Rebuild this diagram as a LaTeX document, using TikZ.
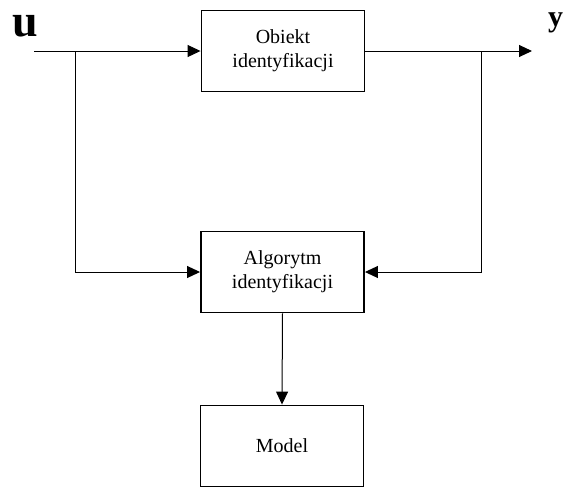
\documentclass[tikz,border=0pt]{standalone}
\usepackage{fontspec}
\setmainfont{Liberation Serif}
\usetikzlibrary{arrows.meta}
\tikzset{
  block/.style={draw, line width=1.9pt, minimum width=163pt, minimum height=81pt,
    inner sep=0pt, align=center, font=\fontsize{20}{24}\selectfont},
  sig/.style={line width=1pt},
  arr/.style={sig, -{Triangle[length=13pt,width=12pt]}},
  siglabel/.style={inner sep=0pt, font=\bfseries}
}
\begin{document}
\begin{tikzpicture}[x=1pt,y=1pt]
  \useasboundingbox (0,0) rectangle (563,-488);
  % blocks
  \node[block] (obj) at (283,-51) {Obiekt\\identyfikacji};
  \node[block] (alg) at (282.5,-272) {Algorytm\\identyfikacji};
  \node[block] (mod) at (282,-446) {Model};
  % signal points
  \coordinate (in) at (34,-51);
  \coordinate (bu) at (75,-51);
  \coordinate (by) at (481,-51);
  \coordinate (out) at (532,-51);
  % signal labels
  \node[siglabel, anchor=base west, font=\bfseries\fontsize{46}{46}\selectfont] (lu) at (12,-36) {u};
  \node[siglabel, anchor=base west, font=\bfseries\fontsize{30}{30}\selectfont] (ly) at (548,-26) {y};
  % connections
  \draw[arr] (in) -- (obj.west);
  \draw[arr] (obj.east) -- (out);
  \draw[arr] (bu) |- (alg.west);
  \draw[arr] (by) |- (alg.east);
  \draw[arr] (alg.south) -- (mod.north);
\end{tikzpicture}
\end{document}
